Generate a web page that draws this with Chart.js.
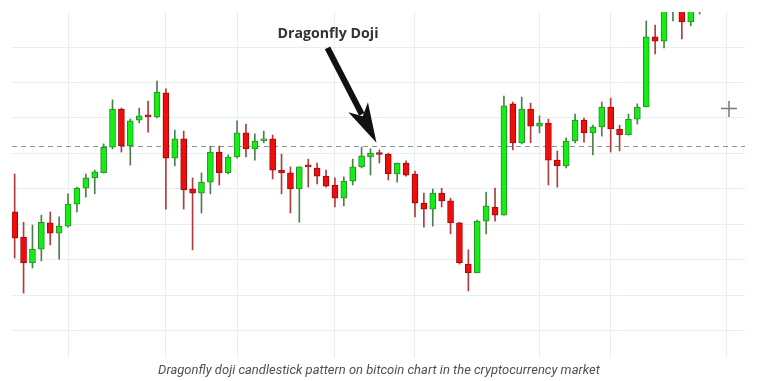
<!DOCTYPE html>
<html>
<head>
<meta charset="utf-8">
<title>Dragonfly Doji</title>
<script src="https://cdn.jsdelivr.net/npm/chart.js@4.4.1/dist/chart.umd.min.js"></script>
<style>
  html, body { margin: 0; padding: 0; background: #fff; }
  #chart { display: block; }
</style>
</head>
<body>
<canvas id="chart" width="757" height="381"></canvas>
<script>
// Candles (oldest first)
const opens = [
  6535, 6464, 6391, 6430, 6504, 6475, 6495, 6557, 6602, 6631,
  6645, 6718, 6825, 6721, 6794, 6806, 6803, 6871, 6687, 6741,
  6600, 6588, 6619, 6704, 6645, 6690, 6758, 6713, 6735, 6741,
  6653, 6645, 6600, 6665, 6659, 6636, 6611, 6574, 6622, 6662,
  6690, 6701, 6698, 6642, 6673, 6642, 6560, 6543, 6588, 6566,
  6504, 6388, 6363, 6509, 6549, 6526, 6840, 6730, 6825, 6777,
  6786, 6681, 6665, 6735, 6794, 6758, 6775, 6831, 6769, 6752,
  6797, 6831, 7029, 7017, 7110, 7133, 7071, 7119
];
const highs = [
  6642, 6506, 6498, 6526, 6535, 6521, 6586, 6605, 6642, 6653,
  6727, 6851, 6828, 6797, 6828, 6848, 6904, 6882, 6766, 6763,
  6631, 6645, 6721, 6721, 6696, 6792, 6783, 6755, 6763, 6752,
  6698, 6662, 6662, 6684, 6673, 6653, 6631, 6634, 6684, 6718,
  6713, 6710, 6701, 6673, 6679, 6650, 6588, 6600, 6602, 6574,
  6506, 6428, 6512, 6591, 6602, 6862, 6845, 6859, 6842, 6806,
  6797, 6707, 6744, 6811, 6800, 6780, 6845, 6856, 6780, 6811,
  6840, 7074, 7062, 7147, 7161, 7141, 7147, 7167
];
const lows = [
  6405, 6306, 6377, 6397, 6442, 6402, 6492, 6535, 6577, 6586,
  6645, 6713, 6704, 6667, 6786, 6760, 6800, 6543, 6665, 6543,
  6428, 6532, 6586, 6611, 6642, 6687, 6690, 6681, 6730, 6628,
  6586, 6532, 6506, 6605, 6614, 6605, 6549, 6552, 6611, 6659,
  6639, 6673, 6625, 6619, 6636, 6521, 6492, 6495, 6549, 6473,
  6388, 6312, 6363, 6473, 6509, 6526, 6710, 6727, 6730, 6758,
  6611, 6605, 6659, 6730, 6732, 6696, 6749, 6704, 6707, 6752,
  6783, 6831, 6981, 6998, 7074, 7023, 7060, 7093
];
const closes = [
  6461, 6391, 6430, 6506, 6475, 6495, 6557, 6602, 6631, 6648,
  6718, 6825, 6721, 6792, 6806, 6803, 6873, 6687, 6741, 6597,
  6588, 6619, 6704, 6645, 6690, 6758, 6713, 6735, 6741, 6653,
  6645, 6600, 6662, 6662, 6636, 6608, 6574, 6622, 6662, 6693,
  6701, 6697, 6642, 6673, 6639, 6560, 6543, 6588, 6566, 6504,
  6391, 6363, 6509, 6552, 6526, 6834, 6730, 6825, 6777, 6786,
  6681, 6665, 6735, 6794, 6758, 6775, 6831, 6769, 6752, 6797,
  6831, 7029, 7017, 7122, 7147, 7071, 7127, 7156
];

// vertical grid lines fall on these candles, horizontal ones on these prices
const dayBreaks = [6, 17, 25, 36, 45, 59, 67, 80];
const priceLevels = [6200, 6300, 6400, 6500, 6600, 6700, 6800, 6900, 7000];

const resistanceLevel = 6721;
const dojiIndex = 40;
const annotationText = 'Dragonfly Doji';
const captionText = 'Dragonfly doji candlestick pattern on bitcoin chart in the cryptocurrency market';

const UP_FILL = '#14ee14';
const UP_EDGE = '#2a8a2a';
const UP_WICK = '#4d7f4d';
const DOWN_FILL = '#f20d0d';
const DOWN_EDGE = '#9a0a0a';
const DOWN_WICK = '#b23c3c';
const GRID = '#e7eff3';

const isUp = opens.map((o, i) => closes[i] >= o);

const bodies = opens.map((o, i) => ({ x: i, y: [o, closes[i]] }));
const wicks = lows.map((l, i) => ({ x: i, y: [l, highs[i]] }));

// overlay drawing: dashed level, annotation arrow, cursor, caption
const overlay = {
    id: 'overlay',
    beforeDatasetsDraw(chart) {
        const { ctx, chartArea, scales } = chart;
        const y = Math.round(scales.y.getPixelForValue(resistanceLevel)) + 0.5;
        ctx.save();
        ctx.strokeStyle = '#8593a3';
        ctx.lineWidth = 1;
        ctx.setLineDash([5, 4]);
        ctx.beginPath();
        ctx.moveTo(chartArea.left, y);
        ctx.lineTo(chartArea.right, y);
        ctx.stroke();
        ctx.restore();
    },
    afterDraw(chart) {
        const { ctx, scales } = chart;

        // arrow pointing at the doji
        const tipX = scales.x.getPixelForValue(dojiIndex) + 6;
        const tipY = scales.y.getPixelForValue(highs[dojiIndex]) - 6;
        const tailX = tipX - 49;
        const tailY = tipY - 95;
        const len = Math.hypot(tipX - tailX, tipY - tailY);
        const ux = (tipX - tailX) / len;
        const uy = (tipY - tailY) / len;
        const nx = -uy;
        const ny = ux;
        const headLen = 40;
        const headHalf = 11;
        const notch = 30;

        ctx.save();
        ctx.strokeStyle = '#111';
        ctx.fillStyle = '#111';
        ctx.lineWidth = 6;
        ctx.lineCap = 'butt';
        ctx.beginPath();
        ctx.moveTo(tailX, tailY);
        ctx.lineTo(tipX - ux * (notch + 2), tipY - uy * (notch + 2));
        ctx.stroke();

        ctx.beginPath();
        ctx.moveTo(tipX, tipY);
        ctx.lineTo(tipX - ux * headLen + nx * headHalf, tipY - uy * headLen + ny * headHalf);
        ctx.lineTo(tipX - ux * notch, tipY - uy * notch);
        ctx.lineTo(tipX - ux * headLen - nx * headHalf, tipY - uy * headLen - ny * headHalf);
        ctx.closePath();
        ctx.fill();

        ctx.fillStyle = '#333';
        ctx.font = 'bold 15px "Open Sans", sans-serif';
        ctx.textAlign = 'center';
        ctx.textBaseline = 'alphabetic';
        ctx.fillText(annotationText, tailX + 0.5, tipY - 105, 101);
        ctx.restore();

        // crosshair cursor
        ctx.save();
        ctx.strokeStyle = '#7a7a7a';
        ctx.lineWidth = 1.5;
        ctx.beginPath();
        ctx.moveTo(721, 108.5);
        ctx.lineTo(737, 108.5);
        ctx.moveTo(729, 101);
        ctx.lineTo(729, 117);
        ctx.stroke();
        ctx.restore();

        // caption under the chart
        ctx.save();
        ctx.fillStyle = '#505050';
        ctx.font = 'italic 13px Roboto, sans-serif';
        ctx.textAlign = 'center';
        ctx.textBaseline = 'middle';
        ctx.fillText(captionText, 379, 371, 448);
        ctx.restore();
    }
};

const ctx = document.getElementById('chart').getContext('2d');
new Chart(ctx, {
    type: 'bar',
    data: {
        datasets: [
            {
                label: 'Body',
                data: bodies,
                order: 1,
                grouped: false,
                barThickness: 6,
                minBarLength: 2,
                borderWidth: 1,
                borderSkipped: false,
                backgroundColor: isUp.map(u => (u ? UP_FILL : DOWN_FILL)),
                borderColor: isUp.map(u => (u ? UP_EDGE : DOWN_EDGE))
            },
            {
                label: 'Wick',
                data: wicks,
                order: 2,
                grouped: false,
                barThickness: 1,
                borderWidth: 0,
                backgroundColor: isUp.map(u => (u ? UP_WICK : DOWN_WICK))
            }
        ]
    },
    options: {
        responsive: false,
        animation: false,
        events: [],
        layout: { padding: { left: 12, right: 12, top: 12, bottom: 23 } },
        plugins: {
            legend: { display: false },
            tooltip: { enabled: false },
            title: { display: false }
        },
        scales: {
            x: {
                type: 'linear',
                min: -0.3,
                max: 82.1,
                offset: false,
                ticks: { display: false },
                border: { display: false },
                grid: { offset: false, color: GRID, lineWidth: 1, drawTicks: false, tickLength: 0 },
                afterBuildTicks(scale) {
                    scale.ticks = dayBreaks.map(v => ({ value: v }));
                }
            },
            y: {
                type: 'linear',
                min: 6123,
                max: 7099,
                ticks: { display: false },
                border: { display: false },
                grid: { color: GRID, lineWidth: 1, drawTicks: false, tickLength: 0 },
                afterBuildTicks(scale) {
                    scale.ticks = priceLevels.map(v => ({ value: v }));
                }
            }
        }
    },
    plugins: [overlay]
});
</script>
</body>
</html>
